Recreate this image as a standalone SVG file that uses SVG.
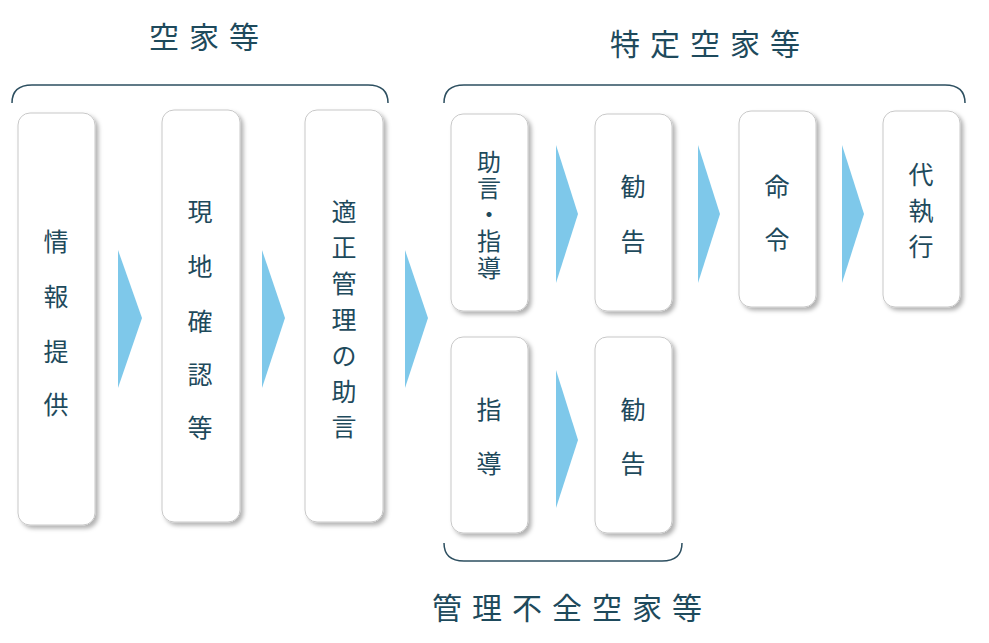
<svg xmlns="http://www.w3.org/2000/svg" width="989" height="643" viewBox="0 0 989 643">
<defs>
<filter id="sh" x="-20%" y="-10%" width="150%" height="130%"><feDropShadow dx="3" dy="3" stdDeviation="2" flood-color="#000" flood-opacity="0.3"/></filter>
</defs>
<style>
.b{fill:#fff;stroke:#c8c8c8;stroke-width:1;filter:url(#sh)}
.t{font-family:"Noto Sans CJK JP",sans-serif;fill:#1e4a5c;text-anchor:middle;dominant-baseline:central}
.v{font-size:25px}
.s{font-size:24px}
.h{font-size:30px;letter-spacing:10px}
.a{fill:#7ec8ea}
.br{fill:none;stroke:#2d4f60;stroke-width:1.5}
</style>
<rect width="989" height="643" fill="#fff"/>
<g id="labels">
<text class="t h" x="209" y="35">空家等</text>
<text class="t h" x="710" y="42">特定空家等</text>
<text class="t h" x="572" y="606">管理不全空家等</text>
</g>
<g id="connectors">
<path class="br" d="M12,103 Q12,85 32,85 L368,85 Q388,85 388,103"/>
<path class="br" d="M444,103 Q444,85 464,85 L945,85 Q965,85 965,103"/>
<path class="br" d="M444,543 Q444,561 464,561 L662,561 Q682,561 682,543"/>
<polygon class="a" points="118,250 142,318 118,388"/>
<polygon class="a" points="262,250 285,318 262,388"/>
<polygon class="a" points="405,250 428,318 405,388"/>
<polygon class="a" points="556,145 578,214 556,283"/>
<polygon class="a" points="698,145 720,214 698,283"/>
<polygon class="a" points="842,145 864,214 842,283"/>
<polygon class="a" points="556,370 578,440 556,508"/>
</g>
<g id="n1"><rect class="b" x="18" y="113" width="77" height="412" rx="12"/>
<text class="t v"><tspan x="56" y="240">情</tspan><tspan x="56" y="295">報</tspan><tspan x="56" y="350">提</tspan><tspan x="56" y="403">供</tspan></text></g>
<g id="n2"><rect class="b" x="162" y="110" width="78" height="412" rx="12"/>
<text class="t v"><tspan x="200" y="210">現</tspan><tspan x="200" y="265">地</tspan><tspan x="200" y="320">確</tspan><tspan x="200" y="373">認</tspan><tspan x="200" y="426">等</tspan></text></g>
<g id="n3"><rect class="b" x="305" y="110" width="78" height="412" rx="12"/>
<text class="t v"><tspan x="344" y="210">適</tspan><tspan x="344" y="246">正</tspan><tspan x="344" y="282">管</tspan><tspan x="344" y="318">理</tspan><tspan x="344" y="354">の</tspan><tspan x="344" y="390">助</tspan><tspan x="344" y="425">言</tspan></text></g>
<g id="n4"><rect class="b" x="451" y="114" width="77" height="197" rx="12"/>
<text class="t s"><tspan x="489" y="160">助</tspan><tspan x="489" y="186">言</tspan><tspan x="489" y="212">・</tspan><tspan x="489" y="239">指</tspan><tspan x="489" y="266">導</tspan></text></g>
<g id="n5"><rect class="b" x="595" y="114" width="77" height="197" rx="12"/>
<text class="t v"><tspan x="633" y="185">勧</tspan><tspan x="633" y="240">告</tspan></text></g>
<g id="n6"><rect class="b" x="739" y="111" width="77" height="196" rx="12"/>
<text class="t v"><tspan x="777" y="185">命</tspan><tspan x="777" y="238">令</tspan></text></g>
<g id="n7"><rect class="b" x="883" y="111" width="77" height="196" rx="12"/>
<text class="t v"><tspan x="921" y="173">代</tspan><tspan x="921" y="209">執</tspan><tspan x="921" y="245">行</tspan></text></g>
<g id="n8"><rect class="b" x="451" y="337" width="77" height="196" rx="12"/>
<text class="t v"><tspan x="489" y="408">指</tspan><tspan x="489" y="462">導</tspan></text></g>
<g id="n9"><rect class="b" x="595" y="337" width="77" height="196" rx="12"/>
<text class="t v"><tspan x="633" y="408">勧</tspan><tspan x="633" y="462">告</tspan></text></g>
</svg>
